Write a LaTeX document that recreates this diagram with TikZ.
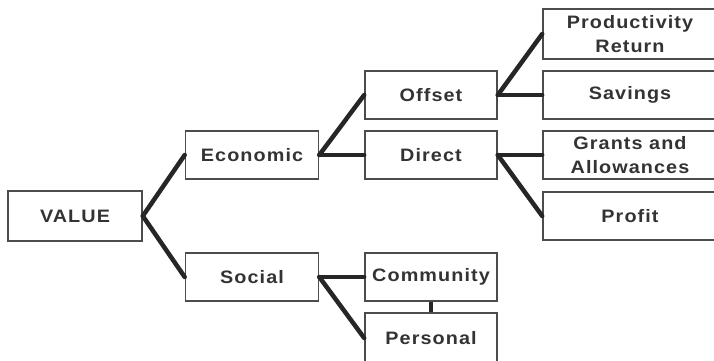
\documentclass[tikz,border=0pt]{standalone}
\usepackage{fontspec}
\setmainfont{Liberation Sans}[LetterSpace=6, FakeStretch=1.1]
\begin{document}
\begin{tikzpicture}[
    x=1pt, y=-1pt,
    box/.style={rectangle, draw=black!70, line width=1.6pt, fill=white, minimum width=133pt, minimum height=48pt, align=center, inner sep=2pt, text=black!80, font=\fontsize{18}{24}\selectfont\bfseries},
    wide/.style={box, minimum width=174pt},
    link/.style={line width=4.5pt, black!85, line cap=round}
]

\clip (0,0) rectangle (714,360);
\fill[white] (0,0) rectangle (714,360);

% Root
\node[box, minimum width=134pt, minimum height=50pt] (value) at (75,216) {VALUE};

% Second level
\node[box] (economic) at (252,155) {Economic};
\node[box] (social) at (252,277) {Social};

% Third level
\node[box, minimum width=132pt] (offset) at (431,95) {Offset};
\node[box, minimum width=132pt] (direct) at (431,155) {Direct};
\node[box, minimum width=132pt] (community) at (431,277) {Community};
\node[box, minimum width=132pt, minimum height=50pt] (personal) at (431,338) {Personal};

% Outcomes
\node[wide, minimum height=50pt] (productivity) at (630,34) {Productivity\\Return};
\node[wide] (savings) at (630,95) {Savings};
\node[wide] (grants) at (630,155) {Grants and\\Allowances};
\node[wide] (profit) at (630,216) {Profit};

% Links
\draw[link] (value.east) -- (economic.west);
\draw[link] (value.east) -- (social.west);
\draw[link] (economic.east) -- (offset.west);
\draw[link] (economic.east) -- (direct.west);
\draw[link] (offset.east) -- (productivity.west);
\draw[link] (offset.east) -- (savings.west);
\draw[link] (direct.east) -- (grants.west);
\draw[link] (direct.east) -- (profit.west);
\draw[link] (social.east) -- (community.west);
\draw[link] (social.east) -- (personal.west);
\draw[link, line cap=butt] (community.south) -- (personal.north);

\end{tikzpicture}
\end{document}
